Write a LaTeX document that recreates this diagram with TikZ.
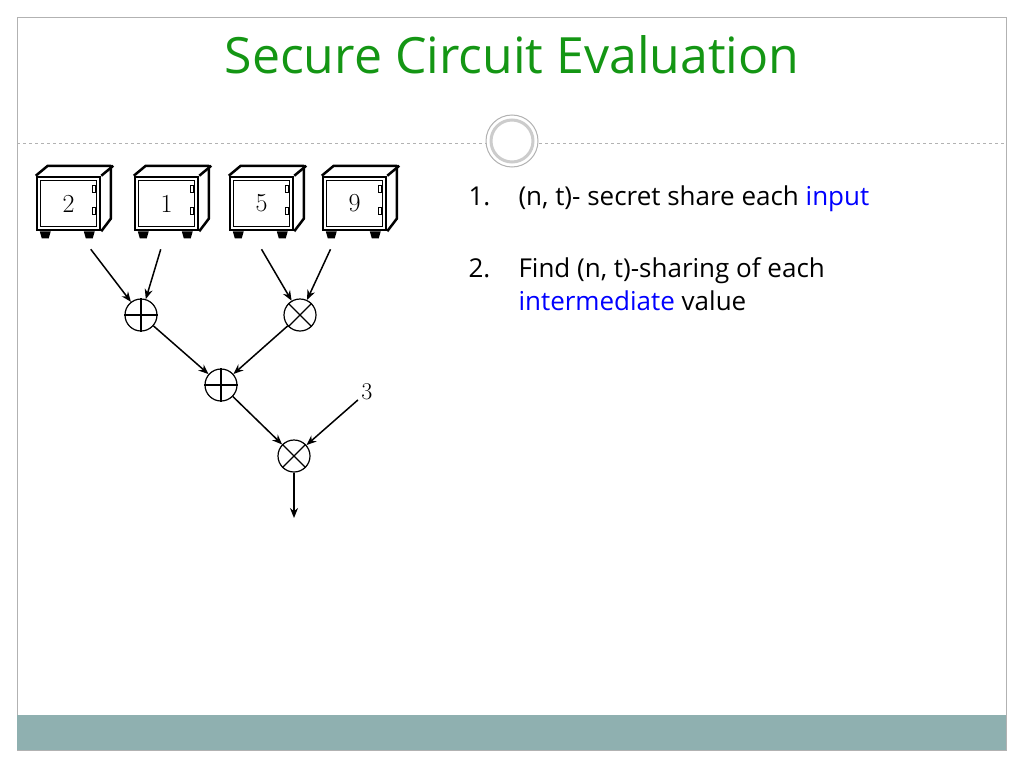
\documentclass[tikz,border=0pt]{standalone}
\usepackage{fontspec}
\setsansfont{Open Sans}
\usetikzlibrary{positioning,arrows.meta}
\definecolor{titlegreen}{RGB}{20,150,20}
\definecolor{barteal}{RGB}{143,176,176}
\newcommand\safedeco[1]{%
  \draw[line width=2.5pt,line join=round] (#1.north west) -- ++(12,-10) -- ++(63,0) -- ++(0,53) -- (#1.south east);
  \draw[line width=2.5pt] (#1.north east) -- ++(12,-10);
  \draw[line width=1pt] ([shift={(5,5)}]#1.north west) rectangle ([shift={(-5,-5)}]#1.south east);
  \foreach \hy in {10,32}
    \draw[fill=white,line width=0.8pt] ([shift={(-9,\hy)}]#1.north east) rectangle ++(3,7);
  \foreach \lx in {4,48}
    \fill ([shift={(\lx,0)}]#1.south west) -- ++(11,0) -- ++(-2,7) -- ++(-7,0) -- cycle;
}
\begin{document}
\begin{tikzpicture}[x=1pt,y=-1pt,>={Stealth[length=10pt,width=8pt]},
    safebox/.style={draw,line width=2.5pt,minimum width=63pt,minimum height=53pt,inner sep=0pt,font=\fontsize{26}{30}\selectfont},
    gate/.style={circle,draw,line width=1.2pt,minimum size=32pt,inner sep=0pt},
    wire/.style={->,line width=1.5pt},
    item/.style={anchor=base west,font=\sffamily\fontsize{26}{30}\selectfont}]
  \useasboundingbox (0,0) rectangle (1024,768);
  \draw[gray!60] (17,17) rectangle (1006,750);
  \fill[barteal] (17,715) rectangle (1006,750);
  \draw[gray!60,dashed] (17,143) -- (1006,143);
  \node[circle,draw=gray!60,fill=white,line width=1pt,minimum size=52pt] (ring) at (512,141) {};
  \node[circle,draw=gray!40,line width=3pt,minimum size=42pt] at (ring) {};
  \node[font=\sffamily\fontsize{50}{56}\selectfont,text=titlegreen] (title) at (512,55) {Secure Circuit Evaluation};
  % safes
  \node[safebox] (s1) at (68.5,203.5) {2\hspace{14pt}};
  \node[safebox] (s2) at (166.5,203.5) {1\hspace{14pt}};
  \node[safebox] (s3) at (261.5,203.5) {\raisebox{-6pt}{5}\hspace{10pt}};
  \node[safebox] (s4) at (354.5,203.5) {9\hspace{12pt}};
  \foreach \s in {s1,s2,s3,s4} {\safedeco{\s}}
  % gates
  \node[gate] (add1) at (141,315) {};
  \node[gate] (mul1) at (300,315) {};
  \node[gate] (add2) at (221,385) {};
  \node[gate] (mul2) at (294,456) {};
  \foreach \g in {add1,add2} \draw[line width=1.2pt] (\g.north) -- (\g.south) (\g.west) -- (\g.east);
  \foreach \g in {mul1,mul2} \draw[line width=1.2pt] (\g.north west) -- (\g.south east) (\g.north east) -- (\g.south west);
  \node[font=\fontsize{24}{28}\selectfont] (three) at (367,392) {3};
  \coordinate (out) at (294,518);
  \draw[wire] ([shift={(55,18)}]s1.south west) -- (add1);
  \draw[wire] ([shift={(27,18)}]s2.south west) -- (add1);
  \draw[wire] ([shift={(0,18)}]s3.south) -- (mul1);
  \draw[wire] ([shift={(-24,18)}]s4.south) -- (mul1);
  \draw[wire] (add1) -- (add2);
  \draw[wire] (mul1) -- (add2);
  \draw[wire] (add2) -- (mul2);
  \draw[wire] (three) -- (mul2);
  \draw[wire] (mul2) -- (out);
  % text
  \node[item] (n1) at (465,205) {1.};
  \node[item] (t1) at (515,205) {(n, t)- secret share each \textcolor{blue}{input}};
  \node[item] (n2) at (465,277) {2.};
  \node[item] (t2) at (515,277) {Find (n, t)-sharing of each};
  \node[item] (t3) at (515,310) {\textcolor{blue}{intermediate} value};
\end{tikzpicture}
\end{document}
